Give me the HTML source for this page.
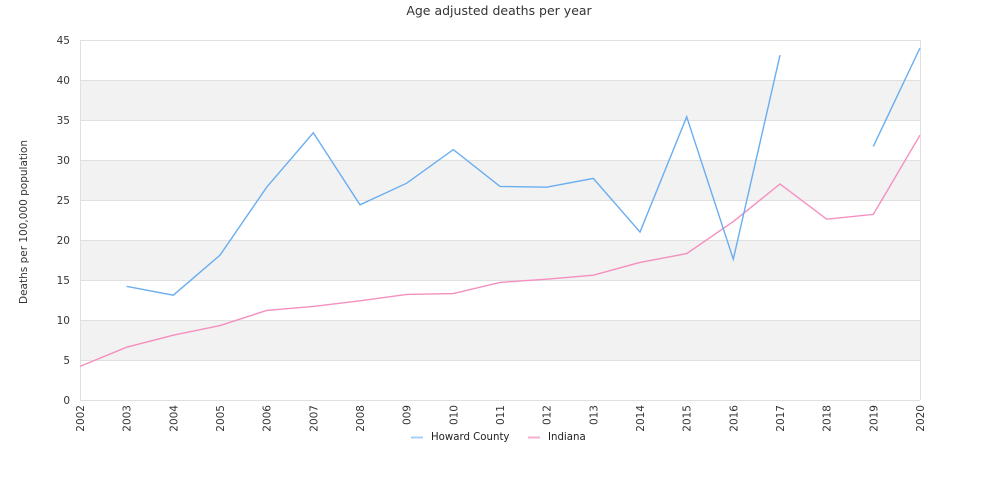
<!DOCTYPE html><html><head><style>body{margin:0;background:#fff}svg{display:block;font-family:"DejaVu Sans","Liberation Sans",sans-serif}</style></head><body>
<svg width="1000" height="500" xmlns="http://www.w3.org/2000/svg">
<text x="499" y="15" text-anchor="middle" font-size="12.5" fill="#333">Age adjusted deaths per year</text>
<g fill="#f2f2f2"><rect x="80" y="320" width="840" height="40"/><rect x="80" y="240" width="840" height="40"/><rect x="80" y="160" width="840" height="40"/><rect x="80" y="80" width="840" height="40"/></g>
<g stroke="#e0e0e0" stroke-width="1">
<line x1="80" y1="40.5" x2="920" y2="40.5"/><line x1="80" y1="80.5" x2="920" y2="80.5"/><line x1="80" y1="120.5" x2="920" y2="120.5"/><line x1="80" y1="160.5" x2="920" y2="160.5"/><line x1="80" y1="200.5" x2="920" y2="200.5"/><line x1="80" y1="240.5" x2="920" y2="240.5"/><line x1="80" y1="280.5" x2="920" y2="280.5"/><line x1="80" y1="320.5" x2="920" y2="320.5"/><line x1="80" y1="360.5" x2="920" y2="360.5"/><line x1="80" y1="400.5" x2="920" y2="400.5"/>
<line x1="80.5" y1="40" x2="80.5" y2="400"/><line x1="920.5" y1="40" x2="920.5" y2="400"/></g>
<g font-size="10.5" fill="#333" text-anchor="end">
<text x="70" y="44">45</text><text x="70" y="84">40</text><text x="70" y="124">35</text><text x="70" y="164">30</text><text x="70" y="204">25</text><text x="70" y="244">20</text><text x="70" y="284">15</text><text x="70" y="324">10</text><text x="70" y="364">5</text><text x="70" y="404">0</text></g>
<text transform="translate(27,222) rotate(-90)" text-anchor="middle" font-size="10.5" fill="#333">Deaths per 100,000 population</text>
<g font-size="10.5" fill="#333" text-anchor="end" id="xl"></g>
<polyline fill="none" stroke="#f48fbf" stroke-width="1.4" points="80,366.4 126.7,347.2 173.3,335.2 220,325.6 266.7,310.4 313.3,306.4 360,300.8 406.7,294.4 453.3,293.6 500,282.4 546.7,279.2 593.3,275.2 640,262.4 686.7,253.6 733.3,221.6 780,184 826.7,219.2 873.3,214.4 920,135.2"/>
<polyline fill="none" stroke="#6aaef0" stroke-width="1.4" points="126.7,286.4 173.3,295.2 220,255.2 266.7,187.2 313.3,132.8 360,204.8 406.7,183.2 453.3,149.6 500,186.4 546.7,187.2 593.3,178.4 640,232 686.7,116.8 733.3,259.2 780,55.2"/>
<polyline fill="none" stroke="#6aaef0" stroke-width="1.4" points="873.3,146.4 920,48"/>
<rect x="400" y="425" width="200" height="22" fill="#fff"/>
<line x1="411" y1="437.5" x2="423" y2="437.5" stroke="#a8cff5" stroke-width="2"/>
<text x="431" y="440" font-size="10.2" fill="#222">Howard County</text>
<line x1="528" y1="437.5" x2="540" y2="437.5" stroke="#f5aed2" stroke-width="2"/>
<text x="548" y="440" font-size="10.2" fill="#222">Indiana</text>
<script>
var g=document.getElementById('xl');for(var i=0;i<19;i++){var x=80+i*840/18+4;var t=document.createElementNS('http://www.w3.org/2000/svg','text');t.setAttribute('transform','translate('+x.toFixed(1)+',405) rotate(-90)');t.textContent=2002+i;g.appendChild(t);}
</script>
</svg></body></html>
